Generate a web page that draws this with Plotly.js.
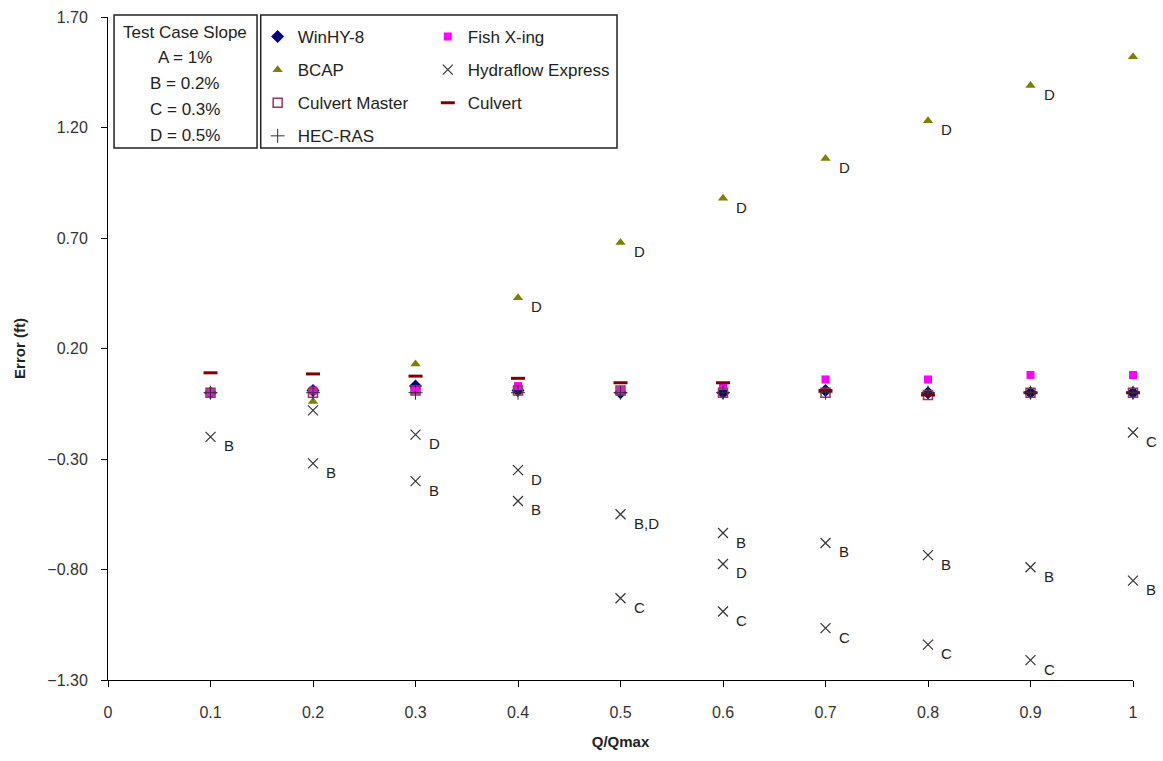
<!DOCTYPE html>
<html>
<head>
<meta charset="utf-8">
<script src="https://cdn.plot.ly/plotly-3.0.1.min.js"></script>
<style>html,body{margin:0;padding:0;background:#fff;}#chart{width:1163px;height:761px;}</style>
</head>
<body>
<div id="chart"></div>
<script>
// ---- data ----
const qRatio = [0.1, 0.2, 0.3, 0.4, 0.5, 0.6, 0.7, 0.8, 0.9, 1.0];
const winhy8 = [0.00, 0.01, 0.03, 0.01, 0.00, 0.00, 0.01, 0.00, 0.00, 0.00];
const fishXing = [0.00, 0.01, 0.01, 0.03, 0.01, 0.03, 0.06, 0.06, 0.08, 0.08];
const culvertMaster = [0.00, 0.00, 0.01, 0.01, 0.01, 0.00, 0.00, -0.01, 0.00, 0.00];
const culvert = [0.09, 0.085, 0.075, 0.065, 0.045, 0.045, 0.01, -0.01, 0.00, 0.00];
const hecRas = [0.00, 0.00, 0.00, 0.00, 0.00, 0.00, 0.00, 0.00, 0.00, 0.00];

const bcapX = [0.2, 0.3, 0.4, 0.5, 0.6, 0.7, 0.8, 0.9, 1.0];
const bcapY = [-0.04, 0.13, 0.43, 0.68, 0.88, 1.06, 1.23, 1.39, 1.52];
const bcapLabels = ["", "", "D", "D", "D", "D", "D", "D", ""];

const hydraX = [0.1, 0.2, 0.2, 0.3, 0.3, 0.4, 0.4, 0.5, 0.5, 0.6, 0.6, 0.6, 0.7, 0.7, 0.8, 0.8, 0.9, 0.9, 1.0, 1.0];
const hydraY = [-0.20, -0.08, -0.32, -0.19, -0.40, -0.35, -0.49, -0.55, -0.93, -0.635, -0.775, -0.99, -0.68, -1.065, -0.735, -1.14, -0.79, -1.21, -0.85, -0.18];
const hydraLabels = ["B", "", "B", "D", "B", "D", "B", "B,D", "C", "B", "D", "C", "B", "C", "B", "C", "B", "C", "B", "C"];

const slopeLines = ["Test Case Slope", "A = 1%", "B = 0.2%", "C = 0.3%", "D = 0.5%"];
const yTickVals = [-1.3, -0.8, -0.3, 0.2, 0.7, 1.2, 1.7];
const xTickVals = [0, 0.1, 0.2, 0.3, 0.4, 0.5, 0.6, 0.7, 0.8, 0.9, 1];

// ---- traces ----
const F = "Liberation Sans, Arial, sans-serif";
const traces = [
  {name: "WinHY-8", x: qRatio, y: winhy8, mode: "markers", type: "scatter", cliponaxis: false,
   marker: {symbol: "diamond", size: 10, color: "#000080"}, legend: "legend", legendgroup: "g1"},
  {name: "Fish X-ing", x: qRatio, y: fishXing, mode: "markers", type: "scatter", cliponaxis: false,
   marker: {symbol: "square", size: 8, color: "#FF00FF"}, legend: "legend2", legendgroup: "g2"},
  {name: "BCAP", x: bcapX, y: bcapY, mode: "markers", type: "scatter", cliponaxis: false,
   marker: {symbol: "triangle-up", size: 9, color: "#808000"}, legend: "legend", legendgroup: "g3"},
  {name: "Hydraflow Express", x: hydraX, y: hydraY, mode: "markers", type: "scatter", cliponaxis: false,
   marker: {symbol: "x-thin-open", size: 10, color: "#333333", line: {width: 1.2, color: "#333333"}}, legend: "legend2", legendgroup: "g4"},
  {name: "Culvert Master", x: qRatio, y: culvertMaster, mode: "markers", type: "scatter", cliponaxis: false,
   marker: {symbol: "square-open", size: 9, color: "#993366", line: {width: 1.5, color: "#993366"}}, legend: "legend", legendgroup: "g5"},
  {name: "Culvert", x: qRatio, y: culvert, mode: "markers", type: "scatter", cliponaxis: false,
   marker: {symbol: "line-ew-open", size: 10, color: "#800000", line: {width: 3, color: "#800000"}}, legend: "legend2", legendgroup: "g6"},
  {name: "HEC-RAS", x: qRatio, y: hecRas, mode: "markers", type: "scatter", cliponaxis: false,
   marker: {symbol: "cross-thin-open", size: 10, color: "#333333", line: {width: 1, color: "#333333"}}, legend: "legend", legendgroup: "g7"}
];

// ---- point labels (slope case letters) ----
const annotations = [];
function addLabels(xs, ys, labels) {
  for (let i = 0; i < xs.length; i++) {
    if (!labels[i]) continue;
    annotations.push({x: xs[i], y: ys[i], xref: "x", yref: "y", text: labels[i], showarrow: false,
      xanchor: "left", yanchor: "middle", xshift: 11, yshift: -9,
      font: {family: F, size: 15, color: "#222"}});
  }
}
addLabels(hydraX, hydraY, hydraLabels);
addLabels(bcapX, bcapY, bcapLabels);

// slope key box text
slopeLines.forEach((t, i) => {
  annotations.push({x: 0.075, y: 0.977 - i * 25.7 / 663, xref: "paper", yref: "paper", text: t,
    showarrow: false, xanchor: "center", yanchor: "middle", font: {family: F, size: 17, color: "#222"}});
});

const legendBase = {
  bgcolor: "rgba(0,0,0,0)", borderwidth: 0, font: {family: F, size: 17, color: "#222"},
  yanchor: "top", xanchor: "left", traceorder: "grouped", tracegroupgap: 8,
  itemclick: false, itemdoubleclick: false
};

const layout = {
  width: 1163, height: 761,
  margin: {l: 108, r: 30, t: 17, b: 81},
  paper_bgcolor: "#fff", plot_bgcolor: "#fff",
  showlegend: true,
  legend: Object.assign({}, legendBase, {x: 0.146, y: 0.997}),
  legend2: Object.assign({}, legendBase, {x: 0.312, y: 0.997}),
  xaxis: {
    range: [0, 1], tickvals: xTickVals, showgrid: false, zeroline: false,
    showline: true, linecolor: "#000", linewidth: 1, ticks: "outside", ticklen: 6, tickcolor: "#000",
    ticklabelstandoff: 12,
    tickfont: {family: F, size: 16, color: "#333"},
    title: {text: "<b>Q/Qmax</b>", font: {family: F, size: 15, color: "#222"}, standoff: 16}
  },
  yaxis: {
    range: [-1.3, 1.7], tickvals: yTickVals, tickformat: ".2f", showgrid: false, zeroline: false,
    showline: true, linecolor: "#000", linewidth: 1, ticks: "outside", ticklen: 6, tickcolor: "#000",
    ticklabelstandoff: 10,
    tickfont: {family: F, size: 16, color: "#333"},
    title: {text: "<b>Error (ft)</b>", font: {family: F, size: 15, color: "#222"}, standoff: 18}
  },
  annotations: annotations,
  shapes: [
    {type: "rect", xref: "paper", yref: "paper", x0: 0.0059, x1: 0.1454, y0: 0.8024, y1: 1.003,
     line: {color: "#222", width: 1.5}, fillcolor: "rgba(255,255,255,0)"},
    {type: "rect", xref: "paper", yref: "paper", x0: 0.149, x1: 0.4966, y0: 0.8024, y1: 1.003,
     line: {color: "#222", width: 1.5}, fillcolor: "rgba(255,255,255,0)"}
  ]
};

Plotly.newPlot("chart", traces, layout, {staticPlot: true, displayModeBar: false});
</script>
</body>
</html>
